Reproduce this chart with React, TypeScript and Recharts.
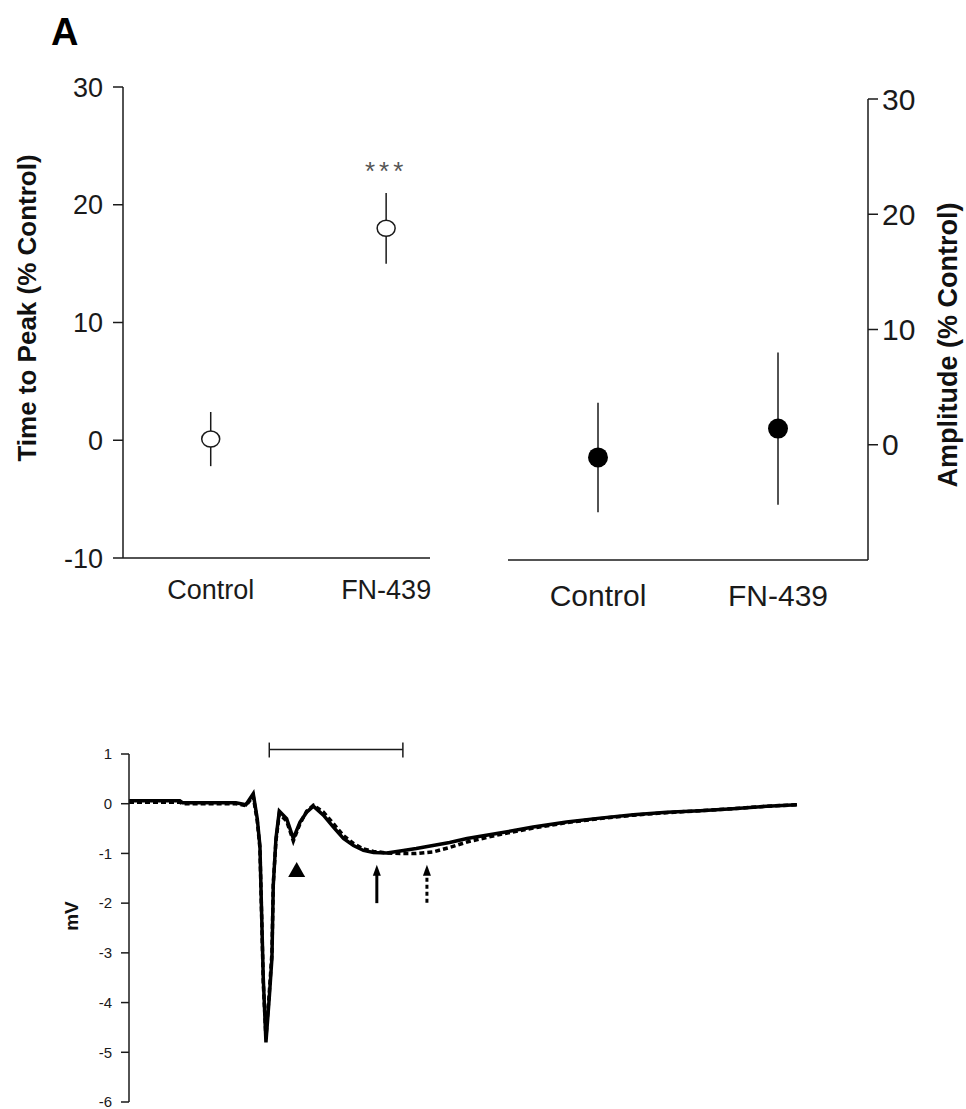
import React from 'react';
import {
  ScatterChart,
  Scatter,
  LineChart,
  Line,
  XAxis,
  YAxis,
  ErrorBar,
  ReferenceDot,
  ReferenceLine,
} from 'recharts';

// Panel A, top: group means +/- SEM (% of control)
const groups = ['Control', 'FN-439'];
const groupX = [1, 3];
const timeToPeak = [0.1, 18.0];
const timeToPeakErr = [2.3, 3.0];
const amplitude = [-1.1, 1.4];
const amplitudeErr = [4.75, 6.6];
const percentTicks = [-10, 0, 10, 20, 30];
const amplitudeTicks = [0, 10, 20, 30];

// Panel A, bottom: averaged field potential traces (ms, mV)
const traceTime = [
  0, 7.6, 8, 16, 17.5, 18.6, 19.2, 19.6, 19.9, 20.1, 20.5, 21.0, 21.4, 21.6, 22.0,
  22.5, 23.6, 24.6, 25.6, 26.6, 27.6, 29.1, 30.6, 32.1, 33.6, 35.1, 36.6, 38.6, 40.6,
  43, 45.5, 48, 50.6, 55.5, 60.5, 65.5, 70.5, 75.5, 80.5, 85.5, 90.4, 95.5, 100,
];
const traceControl = [
  0.06, 0.06, 0.02, 0.02, -0.02, 0.2, -0.3, -0.85, -2.45, -3.5, -4.8, -3.9, -3.1, -1.64, -0.7,
  -0.15, -0.3, -0.7, -0.37, -0.17, -0.05, -0.23, -0.47, -0.7, -0.84, -0.94, -0.98, -0.99, -0.95,
  -0.9, -0.84, -0.78, -0.7, -0.59, -0.47, -0.37, -0.29, -0.22, -0.17, -0.14, -0.1, -0.05, -0.02,
];
const traceFn = [
  0.03, 0.03, 0.0, 0.0, -0.04, 0.15, -0.35, -0.9, -2.5, -3.6, -4.7, -3.8, -3.0, -1.6, -0.75,
  -0.2, -0.35, -0.75, -0.4, -0.15, -0.03, -0.17, -0.4, -0.64, -0.8, -0.91, -0.96, -0.99, -1.0,
  -1.0, -0.97, -0.88, -0.77, -0.62, -0.49, -0.38, -0.3, -0.23, -0.18, -0.14, -0.1, -0.05, -0.02,
];
const mvTicks = [-6, -5, -4, -3, -2, -1, 0, 1];
const scaleBar = [21, 41]; // 20 ms
const notchTime = 25.1;
const peakControlTime = 37.1;
const peakFnTime = 44.6;

const ttpData = groups.map((g, i) => ({ name: g, x: groupX[i], y: timeToPeak[i], err: timeToPeakErr[i] }));
const ampData = groups.map((g, i) => ({ name: g, x: groupX[i], y: amplitude[i], err: amplitudeErr[i] }));
const traceData = traceTime.map((t, i) => ({ t, control: traceControl[i], fn: traceFn[i] }));

const FONT = '"Liberation Sans", Arial, Helvetica, sans-serif';
const INK = '#1a1a1a';
const axisLine = { stroke: INK, strokeWidth: 1.5 };
const groupLabel = (v: number) => groups[groupX.indexOf(v)] ?? '';

const OpenMarker = (p: any) => (
  <ellipse cx={p.cx} cy={p.cy} rx={9} ry={8} fill="#fff" stroke={INK} strokeWidth={1.5} />
);
const FilledMarker = (p: any) => <circle cx={p.cx} cy={p.cy} r={10} fill="#000" />;
const Stars = (p: any) => (
  <text x={p.cx} y={p.cy + 15} textAnchor="middle" fontFamily={FONT} fontSize={26} fill="#555" letterSpacing={4}>
    ***
  </text>
);
const Triangle = (p: any) => (
  <path d={`M${p.cx},${p.cy} L${p.cx - 8.5},${p.cy + 15} L${p.cx + 8.5},${p.cy + 15} Z`} fill="#000" />
);
const ArrowHead = (p: any) => (
  <path d={`M${p.cx},${p.cy} L${p.cx - 4},${p.cy + 11} L${p.cx + 4},${p.cy + 11} Z`} fill="#000" />
);

const rotatedTitle = (text: string, x: number, y: number, size: number) => () => (
  <text
    transform={`translate(${x},${y}) rotate(-90)`}
    textAnchor="middle"
    fontFamily={FONT}
    fontWeight="bold"
    fontSize={size}
    fill="#111"
  >
    {text}
  </text>
);

export default function App() {
  return (
    <div style={{ position: 'absolute', left: 0, top: 0, width: 966, height: 1109, background: '#fff', fontFamily: FONT }}>
      <svg width={120} height={60} style={{ position: 'absolute', left: 0, top: 0 }}>
        <text x={51} y={45} fontFamily={FONT} fontWeight="bold" fontSize={38} fill="#000">
          A
        </text>
      </svg>

      <div style={{ position: 'absolute', left: 0, top: 0 }}>
        <ScatterChart width={440} height={620} margin={{ top: 87, right: 10, bottom: 12, left: 0 }}>
          <XAxis
            type="number"
            dataKey="x"
            domain={[0, 3.5]}
            ticks={groupX}
            interval={0}
            tickFormatter={groupLabel}
            tickLine={false}
            tickSize={0}
            tickMargin={22}
            height={50}
            axisLine={axisLine}
            tick={{ fontSize: 27, fill: INK, fontFamily: FONT }}
          />
          <YAxis
            type="number"
            dataKey="y"
            domain={[-10, 30]}
            ticks={percentTicks}
            interval={0}
            width={123}
            tickSize={10}
            tickMargin={10}
            axisLine={axisLine}
            tickLine={axisLine}
            tick={{ fontSize: 27, fill: INK, fontFamily: FONT }}
            label={rotatedTitle('Time to Peak (% Control)', 36, 308, 26)}
          />
          <Scatter data={ttpData} shape={OpenMarker} isAnimationActive={false}>
            <ErrorBar dataKey="err" direction="y" width={0} stroke={INK} strokeWidth={1.5} />
          </Scatter>
          <ReferenceDot x={3} y={23.4} shape={Stars} />
        </ScatterChart>
      </div>

      <div style={{ position: 'absolute', left: 480, top: 0 }}>
        <ScatterChart width={486} height={640} margin={{ top: 99, right: 0, bottom: 20, left: 28 }}>
          <XAxis
            type="number"
            dataKey="x"
            domain={[0, 4]}
            ticks={groupX}
            interval={0}
            tickFormatter={groupLabel}
            tickLine={false}
            tickSize={0}
            tickMargin={25}
            height={60}
            axisLine={axisLine}
            tick={{ fontSize: 30, fill: INK, fontFamily: FONT }}
          />
          <YAxis
            type="number"
            dataKey="y"
            orientation="right"
            domain={[-10, 30]}
            ticks={amplitudeTicks}
            interval={0}
            width={98}
            tickSize={10}
            tickMargin={4}
            axisLine={axisLine}
            tickLine={axisLine}
            tick={{ fontSize: 30, fill: INK, fontFamily: FONT }}
            label={rotatedTitle('Amplitude (% Control)', 477, 345, 27)}
          />
          <Scatter data={ampData} shape={FilledMarker} isAnimationActive={false}>
            <ErrorBar dataKey="err" direction="y" width={0} stroke={INK} strokeWidth={1.5} />
          </Scatter>
        </ScatterChart>
      </div>

      <div style={{ position: 'absolute', left: 0, top: 700 }}>
        <LineChart width={966} height={409} data={traceData} margin={{ top: 54, right: 169, bottom: 7, left: 0 }}>
          <XAxis type="number" dataKey="t" domain={[0, 100]} hide />
          <YAxis
            domain={[-6, 1]}
            ticks={mvTicks}
            interval={0}
            width={129}
            tickSize={8}
            tickMargin={9}
            axisLine={axisLine}
            tickLine={axisLine}
            tick={{ fontSize: 15, fill: INK, fontFamily: FONT }}
            label={rotatedTitle('mV', 78, 216, 19)}
          />
          <Line
            type="linear"
            dataKey="fn"
            stroke="#000"
            strokeWidth={3.5}
            strokeDasharray="5 3"
            dot={false}
            isAnimationActive={false}
          />
          <Line type="linear" dataKey="control" stroke="#000" strokeWidth={3.5} dot={false} isAnimationActive={false} />

          <ReferenceLine
            segment={[{ x: scaleBar[0], y: 1.09 }, { x: scaleBar[1], y: 1.09 }]}
            stroke={INK}
            strokeWidth={1.5}
            ifOverflow="visible"
          />
          <ReferenceLine
            segment={[{ x: scaleBar[0], y: 0.93 }, { x: scaleBar[0], y: 1.23 }]}
            stroke={INK}
            strokeWidth={1.5}
            ifOverflow="visible"
          />
          <ReferenceLine
            segment={[{ x: scaleBar[1], y: 0.93 }, { x: scaleBar[1], y: 1.23 }]}
            stroke={INK}
            strokeWidth={1.5}
            ifOverflow="visible"
          />

          <ReferenceDot x={notchTime} y={-1.17} shape={Triangle} />

          <ReferenceLine
            segment={[{ x: peakControlTime, y: -1.35 }, { x: peakControlTime, y: -2.0 }]}
            stroke="#000"
            strokeWidth={3}
          />
          <ReferenceDot x={peakControlTime} y={-1.23} shape={ArrowHead} />
          <ReferenceLine
            segment={[{ x: peakFnTime, y: -1.35 }, { x: peakFnTime, y: -2.0 }]}
            stroke="#000"
            strokeWidth={3}
            strokeDasharray="4 3"
          />
          <ReferenceDot x={peakFnTime} y={-1.23} shape={ArrowHead} />
        </LineChart>
      </div>
    </div>
  );
}
